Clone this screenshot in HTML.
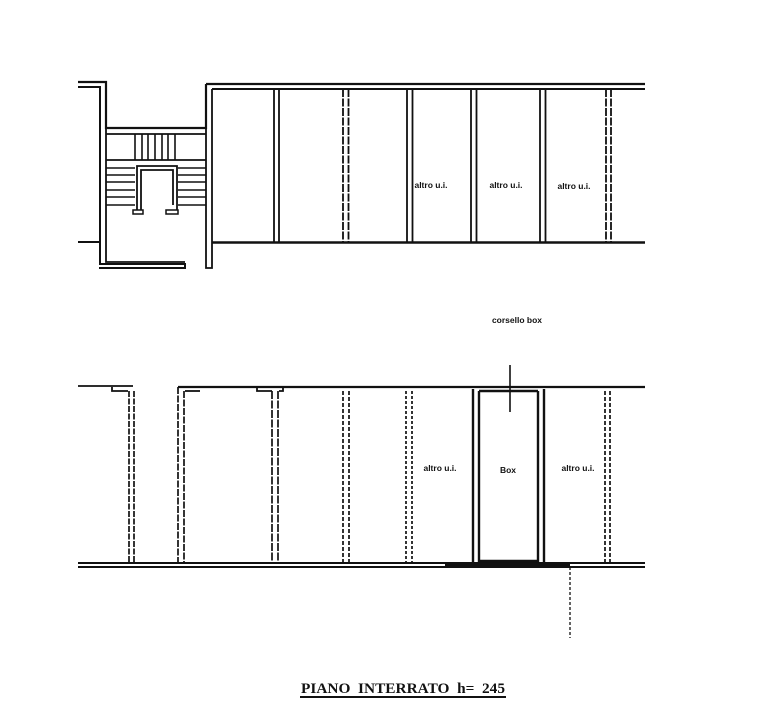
<!DOCTYPE html>
<html><head><style>
html,body{margin:0;padding:0;background:#fff;width:768px;height:716px;overflow:hidden}
svg{display:block}
</style></head><body>
<svg width="768" height="716" viewBox="0 0 768 716" xmlns="http://www.w3.org/2000/svg">
<g stroke="#111" fill="none" stroke-width="1.8">
<!-- TOP BLOCK -->
<line x1="206" y1="84" x2="645" y2="84" stroke-width="2.2"/>
<line x1="212" y1="89" x2="645" y2="89" stroke-width="2"/>
<line x1="212" y1="242.5" x2="645" y2="242.5" stroke-width="2.6"/>
<path d="M78 82 H106 V128 H206 V84" stroke-width="2.2"/>
<path d="M78 87 H100 V264 H185 V268 H99" stroke-width="2"/>
<path d="M106 128 V262 H185"/>
<path d="M206 84 V268 H212 V89"/>
<line x1="78" y1="242" x2="100" y2="242" stroke-width="2"/>
<line x1="106" y1="134" x2="206" y2="134"/>
<line x1="106" y1="160" x2="206" y2="160"/>
<g stroke-width="1.6">
<line x1="135" y1="134" x2="135" y2="160"/><line x1="142" y1="134" x2="142" y2="160"/>
<line x1="148" y1="134" x2="148" y2="160"/><line x1="155" y1="134" x2="155" y2="160"/>
<line x1="162" y1="134" x2="162" y2="160"/><line x1="168" y1="134" x2="168" y2="160"/>
<line x1="175" y1="134" x2="175" y2="160"/>
<line x1="106" y1="168" x2="135" y2="168"/><line x1="106" y1="175" x2="135" y2="175"/>
<line x1="106" y1="182" x2="135" y2="182"/><line x1="106" y1="190" x2="135" y2="190"/>
<line x1="106" y1="197" x2="135" y2="197"/><line x1="106" y1="205" x2="135" y2="205"/>
<line x1="178" y1="168" x2="206" y2="168"/><line x1="178" y1="175" x2="206" y2="175"/>
<line x1="178" y1="182" x2="206" y2="182"/><line x1="178" y1="190" x2="206" y2="190"/>
<line x1="178" y1="197" x2="206" y2="197"/><line x1="178" y1="205" x2="206" y2="205"/>
</g>
<path d="M137 210 V166 H177 V210"/>
<path d="M141 210 V170 H173 V205"/>
<path d="M133 210 H143 V214 H133 Z" stroke-width="1.5"/>
<path d="M166 210 H178 V214 H166 Z" stroke-width="1.5"/>
<g stroke-width="1.8">
<path d="M274 89 V242 M279 89 V242"/>
<path d="M343 89 V242 M348.5 89 V242" stroke-dasharray="8 1.5"/>
<path d="M407 89 V242 M412.5 89 V242"/>
<path d="M471 89 V242 M476.5 89 V242"/>
<path d="M540 89 V242 M545.5 89 V242"/>
<path d="M606 89 V242 M611 89 V242" stroke-dasharray="8 1.5"/>
</g>
<!-- BOTTOM BLOCK -->
<line x1="78" y1="386" x2="133" y2="386" stroke-width="1.8"/>
<line x1="178" y1="387" x2="645" y2="387" stroke-width="2.2"/>
<path d="M112 387 V391 H128"/>
<path d="M185 391 H200"/>
<path d="M257 387 V391 H272 M279 391 H283 V387"/>
<line x1="78" y1="563" x2="645" y2="563" stroke-width="2"/>
<line x1="78" y1="567" x2="645" y2="567" stroke-width="2"/>
<line x1="445" y1="565" x2="570" y2="565" stroke-width="4"/>
<g stroke-width="1.7">
<path d="M129 391 V563 M134 391 V563" stroke-dasharray="6 1.5"/>
<path d="M178 387 V563 M184 391 V563" stroke-dasharray="7 1.5"/>
<path d="M272 391 V563 M278 391 V563" stroke-dasharray="8 1.5"/>
<path d="M343 391 V563 M349 391 V563" stroke-dasharray="4 2"/>
<path d="M406 391 V563 M412 391 V563" stroke-dasharray="3 2"/>
<path d="M605 391 V563 M610 391 V563" stroke-dasharray="4 2"/>
</g>
<g stroke-width="2.4">
<path d="M473 389 V563 M479 391 V561 H538 V391 M544 389 V563"/>
<path d="M479 391 H538"/>
</g>
<line x1="510" y1="365" x2="510" y2="412" stroke-width="1.6"/>
<line x1="570" y1="567" x2="570" y2="638" stroke-width="1.3" stroke-dasharray="3 2"/>
<line x1="300" y1="697" x2="506" y2="697" stroke-width="2"/>
</g>
<g font-family="'Liberation Sans',sans-serif" font-weight="bold" font-size="8.5" fill="#111" text-anchor="middle">
<text x="431" y="188">altro u.i.</text>
<text x="506" y="188">altro u.i.</text>
<text x="574" y="189">altro u.i.</text>
<text x="517" y="323">corsello box</text>
<text x="440" y="471">altro u.i.</text>
<text x="508" y="473">Box</text>
<text x="578" y="471">altro u.i.</text>
</g>
<text x="403" y="693" font-family="'Liberation Serif',serif" font-weight="bold" font-size="14.5" text-anchor="middle" fill="#111" textLength="204" lengthAdjust="spacingAndGlyphs" xml:space="preserve">PIANO  INTERRATO  h=  245</text>
</svg>
</body></html>
